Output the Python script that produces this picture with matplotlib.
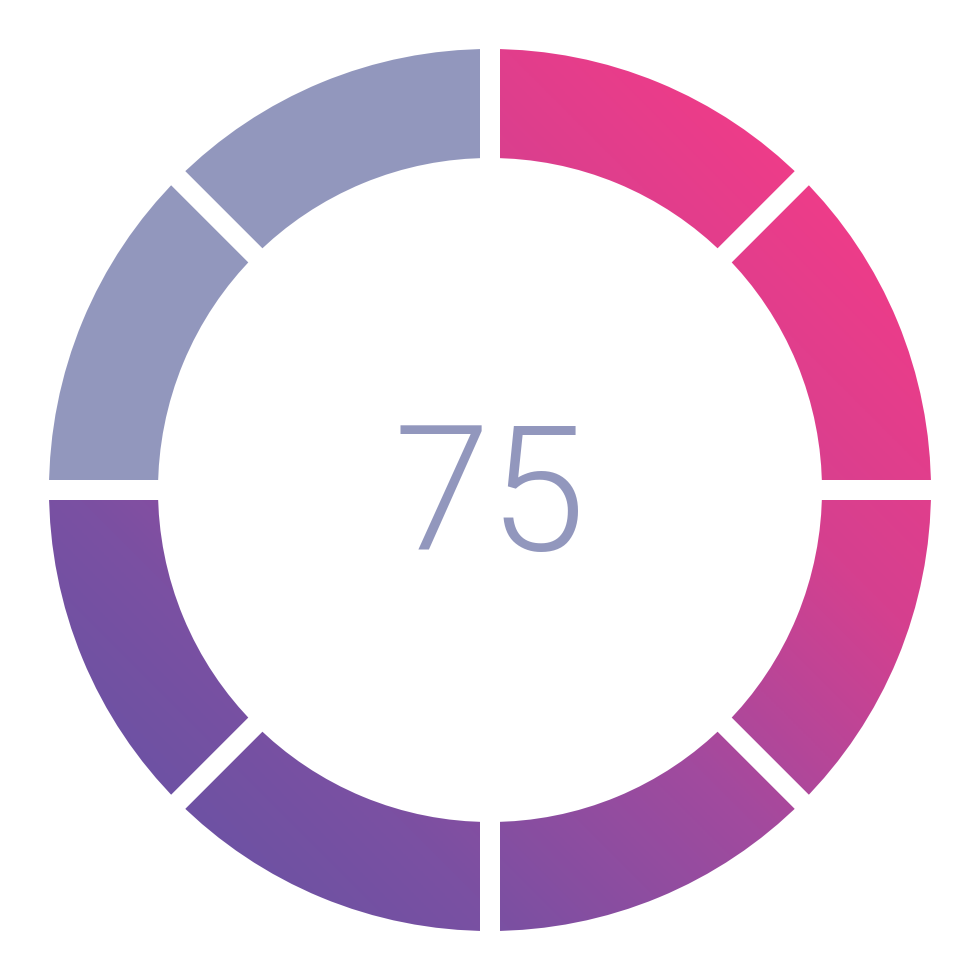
import matplotlib
matplotlib.use("Agg")
import matplotlib.pyplot as plt
import numpy as np
from matplotlib.patches import Wedge
from matplotlib.colors import LinearSegmentedColormap

# data: 8 equal segments, clockwise from 12 o'clock; 6 of them are "on"
score = 75
segment_values = [1, 1, 1, 1, 1, 1, 1, 1]
segment_on = [True, True, True, True, True, True, False, False]

off_color = "#9297BD"
grad = LinearSegmentedColormap.from_list(
    "pinkpurple", ["#6553A4", "#7B50A2", "#A24A9E", "#D5408F", "#EE3C89"])

W = 980
cx, cy = 490, 490
r_out, r_in = 441, 332
gap_px = 20

fig = plt.figure(figsize=(9.8, 9.8), dpi=100)
ax = fig.add_axes([0, 0, 1, 1])
ax.set_xlim(0, W)
ax.set_ylim(0, W)
ax.set_aspect("equal")
ax.axis("off")

# diagonal gradient: pink top-right -> purple bottom-left
xs = np.linspace(0, W, 400)
X, Y = np.meshgrid(xs, xs)
T = np.clip((X + Y - W) / 1400 + 0.55, 0, 1)

total = sum(segment_values)
angle = 90.0
for val, on in zip(segment_values, segment_on):
    sweep = 360.0 * val / total
    w = Wedge((cx, cy), r_out, angle - sweep, angle, width=r_out - r_in,
              facecolor=off_color if not on else "none", edgecolor="none")
    ax.add_patch(w)
    if on:
        im = ax.imshow(T, cmap=grad, vmin=0, vmax=1, origin="lower",
                       extent=[0, W, 0, W], interpolation="bilinear")
        im.set_clip_path(w)
    angle -= sweep

# white gaps between the segments
lw = gap_px * 72 / fig.dpi
angle = 90.0
for val in segment_values:
    a = np.deg2rad(angle)
    ax.plot([cx, cx + (r_out + 20) * np.cos(a)], [cy, cy + (r_out + 20) * np.sin(a)],
            color="white", lw=lw, solid_capstyle="butt", zorder=5)
    angle -= 360.0 * val / total

ax.text(cx, 430, str(score), ha="center", va="baseline", fontsize=125,
        color=off_color, family="Roboto", fontweight=300, zorder=6)

fig.savefig("out.png", dpi=100, facecolor="white")
